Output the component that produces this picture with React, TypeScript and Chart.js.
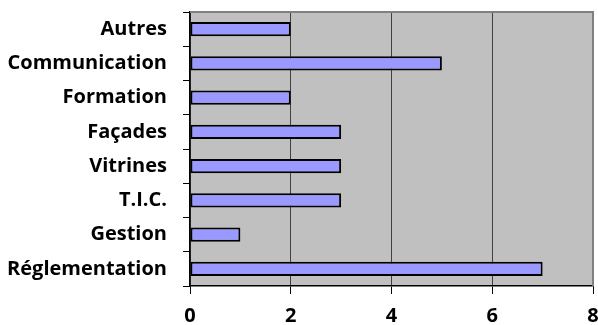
import React, { useEffect, useRef } from "react";
import { Chart, registerables } from "chart.js";

Chart.register(...registerables);

const categories = [
  "Autres",
  "Communication",
  "Formation",
  "Façades",
  "Vitrines",
  "T.I.C.",
  "Gestion",
  "Réglementation",
];
const values = [2, 5, 2, 3, 3, 3, 1, 7];
const xTickMin = 0;
const xTickMax = 8;
const xTickStep = 2;

const plotBg = {
  id: "plotBg",
  beforeDraw(chart: any) {
    const { ctx, chartArea } = chart;
    ctx.save();
    ctx.fillStyle = "#C0C0C0";
    ctx.fillRect(chartArea.left, chartArea.top, chartArea.right - chartArea.left, chartArea.bottom - chartArea.top);
    ctx.restore();
  },
  afterDatasetsDraw(chart: any) {
    const { ctx, chartArea } = chart;
    ctx.save();
    ctx.strokeStyle = "#808080";
    ctx.lineWidth = 2;
    ctx.beginPath();
    ctx.moveTo(chartArea.left, chartArea.top);
    ctx.lineTo(chartArea.right, chartArea.top);
    ctx.lineTo(chartArea.right, chartArea.bottom);
    ctx.stroke();
    ctx.restore();
  },
};

export default function App() {
  const ref = useRef<HTMLCanvasElement>(null);
  useEffect(() => {
    if (!ref.current) return;
    const font = { family: "'Open Sans'", weight: "bold" as const, size: 20 };
    const chart = new Chart(ref.current, {
      type: "bar",
      data: {
        labels: categories,
        datasets: [
          {
            data: values,
            backgroundColor: "#9999FF",
            borderColor: "#000000",
            borderWidth: 2,
            borderSkipped: false,
            categoryPercentage: 1,
            barPercentage: 0.42,
          },
        ],
      },
      options: {
        indexAxis: "y",
        animation: false,
        responsive: false,
        maintainAspectRatio: false,
        layout: { padding: { top: 12, right: 5, left: 0, bottom: 0 } },
        plugins: { legend: { display: false }, tooltip: { enabled: false } },
        scales: {
          x: {
            min: xTickMin,
            max: xTickMax,
            ticks: { stepSize: xTickStep, color: "#000", font, padding: 10 },
            grid: {
              color: "#404040",
              lineWidth: 1,
              drawTicks: true,
              tickLength: 8,
              tickColor: "#000",
            },
            border: { color: "#000", width: 1.5 },
            afterFit(scale: any) {
              scale.height = 39;
              scale.paddingLeft = 0;
              scale.paddingRight = 0;
            },
          },
          y: {
            ticks: { color: "#000", font, padding: 16 },
            grid: {
              offset: true,
              drawOnChartArea: false,
              drawTicks: true,
              tickLength: 7,
              tickColor: "#000",
            },
            border: { color: "#000", width: 1.5 },
            afterFit(scale: any) {
              scale.width = 190;
              scale.paddingTop = 0;
              scale.paddingBottom = 0;
            },
          },
        },
      },
      plugins: [plotBg],
    });
    return () => chart.destroy();
  }, []);
  return (
    <div style={{ position: "fixed", left: 0, top: 0, width: 598, height: 325, background: "#fff" }}>
      <canvas ref={ref} width={598} height={325} style={{ width: 598, height: 325 }} />
    </div>
  );
}
